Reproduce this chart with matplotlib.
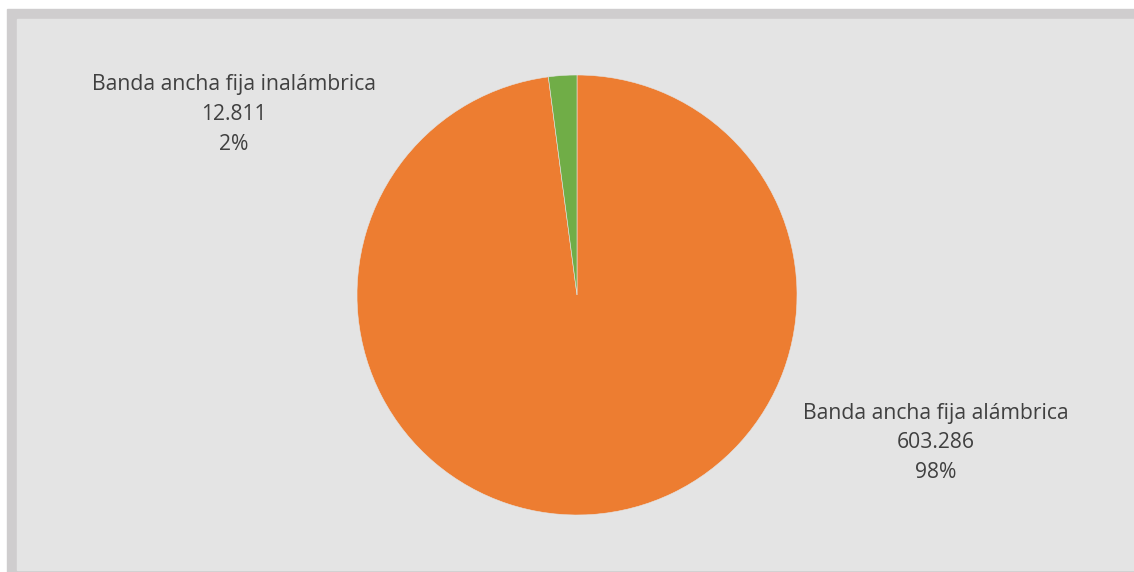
import matplotlib.pyplot as plt
from matplotlib.patches import Rectangle

# data
labels = ["Banda ancha fija alámbrica", "Banda ancha fija inalámbrica"]
values = [603286, 12811]
value_text = ["603.286", "12.811"]
pct_text = ["98%", "2%"]
colors = ["#ED7D31", "#70AD47"]

W, H = 1134, 572
fig = plt.figure(figsize=(W / 100, H / 100), dpi=100)
fig.patch.set_facecolor("white")

def box(x0, y0, x1, y1):
    # pixel coords (top-left origin) -> figure fraction
    return (x0 / W, 1 - y1 / H, (x1 - x0) / W, (y1 - y0) / H)

# outer gray frame and inner panel
x, y, w, h = box(7, 9, 1134, 572)
fig.patches.append(Rectangle((x, y), w, h, transform=fig.transFigure, color="#cfcdce", zorder=-2))
x, y, w, h = box(17, 19, 1134, 570)
fig.patches.append(Rectangle((x, y), w, h, transform=fig.transFigure, color="#e4e4e4", zorder=-1))

# pie axes: center (577, 295), radius 220
cx, cy, r = 577, 295, 220
ax = fig.add_axes(box(cx - r, cy - r, cx + r, cy + r))
ax.set_zorder(2)
ax.pie(values, colors=colors, startangle=90, counterclock=False, radius=1,
       wedgeprops=dict(linewidth=0.4, edgecolor="#e4e4e4"))
ax.set_xlim(-1, 1)
ax.set_ylim(-1, 1)
ax.set_aspect("equal")
ax.axis("off")

# data labels
plt.rcParams["font.family"] = ["Open Sans", "DejaVu Sans"]
label_pos = [(936, 413), (234, 85)]
for i, (px, py) in enumerate(label_pos):
    for j, s in enumerate([labels[i], value_text[i], pct_text[i]]):
        fig.text(px / W, 1 - (py + 30 * j) / H, s, ha="center", va="center",
                 fontsize=15.2, color="#404040", zorder=3)

fig.savefig("out.png", dpi=100)
